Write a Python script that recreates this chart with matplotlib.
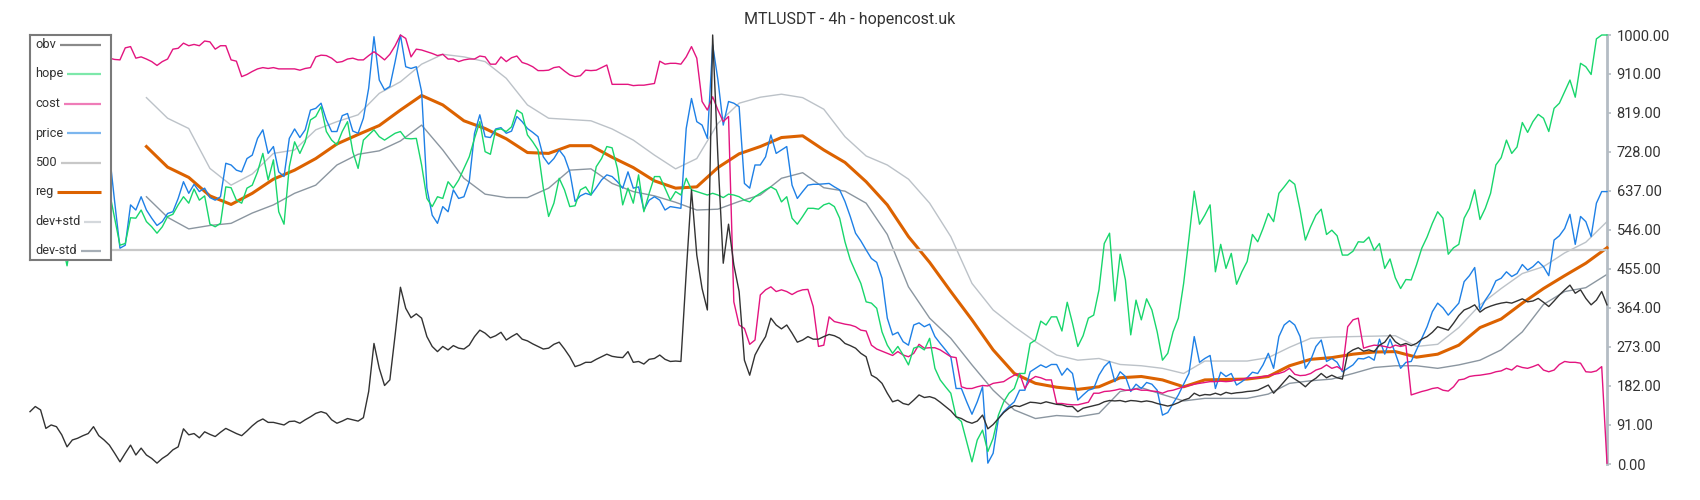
import numpy as np
import matplotlib
matplotlib.use("Agg")
import matplotlib.pyplot as plt

plt.rcParams["font.family"] = ["Roboto", "DejaVu Sans"]

TITLE = "MTLUSDT - 4h - hopencost.uk"
LABELS = ["obv", "hope", "cost", "price", "500", "reg", "dev+std", "dev-std"]
YTICKS = [0, 91, 182, 273, 364, 455, 546, 637, 728, 819, 910, 1000]
LEVEL = 500

# one value per 4h candle (299 candles)
OBV = [
    122, 134, 126, 83, 91, 87, 68, 40, 56, 60,
    66, 71, 87, 66, 56, 44, 25, 5, 25, 44,
    21, 37, 21, 13, 2, 13, 21, 33, 40, 82,
    68, 71, 61, 75, 69, 64, 74, 83, 77, 71,
    66, 77, 89, 99, 105, 97, 97, 94, 91, 99,
    100, 95, 103, 110, 118, 122, 118, 103, 95, 100,
    106, 103, 100, 108, 169, 281, 223, 183, 196, 301,
    412, 363, 341, 350, 340, 297, 274, 262, 274, 266,
    276, 270, 268, 277, 297, 312, 305, 294, 299, 307,
    289, 297, 304, 291, 287, 280, 274, 268, 270, 279,
    284, 268, 250, 227, 231, 237, 237, 244, 250, 256,
    251, 249, 248, 262, 237, 239, 233, 244, 246, 254,
    244, 239, 240, 239, 445, 639, 487, 409, 359, 1000,
    712, 468, 559, 464, 402, 242, 207, 254, 277, 297,
    340, 324, 315, 324, 305, 284, 289, 297, 291, 291,
    297, 302, 299, 293, 281, 276, 270, 258, 250, 207,
    200, 188, 165, 145, 149, 141, 138, 149, 161, 155,
    157, 153, 144, 134, 124, 110, 106, 99, 95, 100,
    114, 82, 92, 106, 120, 130, 136, 134, 139, 144,
    143, 141, 145, 142, 139, 138, 134, 134, 122, 130,
    133, 136, 139, 145, 148, 147, 148, 145, 148, 147,
    145, 147, 145, 141, 138, 135, 138, 143, 149, 153,
    165, 159, 162, 161, 165, 161, 167, 164, 166, 167,
    169, 170, 172, 178, 184, 165, 178, 192, 206, 198,
    190, 180, 192, 200, 211, 201, 207, 201, 198, 258,
    266, 271, 263, 266, 262, 277, 284, 301, 285, 277,
    281, 276, 281, 291, 297, 307, 320, 316, 312, 328,
    346, 359, 364, 371, 354, 363, 368, 372, 375, 377,
    375, 380, 385, 378, 380, 386, 377, 367, 380, 394,
    406, 417, 398, 406, 386, 371, 382, 402, 371,
]

HOPE = [
    600, 620, 580, 560, 590, 540, 520, 462, 540, 600,
    620, 640, 610, 650, 630, 635, 573, 510, 514, 574,
    573, 592, 565, 553, 538, 553, 577, 582, 604, 623,
    608, 641, 615, 625, 559, 553, 561, 646, 644, 615,
    608, 643, 650, 681, 724, 662, 709, 588, 559, 693,
    751, 724, 751, 802, 810, 833, 775, 755, 744, 775,
    798, 728, 689, 755, 767, 779, 763, 755, 763, 771,
    775, 759, 758, 759, 697, 619, 600, 623, 619, 658,
    643, 662, 689, 716, 759, 798, 728, 722, 779, 781,
    775, 786, 825, 817, 767, 751, 732, 643, 577, 608,
    666, 639, 600, 602, 639, 646, 627, 693, 712, 740,
    737, 689, 604, 643, 608, 674, 588, 631, 670, 670,
    643, 615, 635, 627, 666, 639, 635, 631, 627, 631,
    627, 621, 629, 627, 623, 615, 611, 623, 631, 639,
    646, 639, 611, 623, 573, 559, 577, 596, 596, 594,
    604, 608, 600, 573, 518, 476, 448, 421, 378, 375,
    363, 308, 277, 258, 274, 254, 231, 270, 274, 266,
    293, 223, 196, 180, 165, 110, 99, 52, 5, 56,
    79, 29, 60, 114, 145, 165, 176, 211, 211, 281,
    289, 333, 324, 343, 343, 310, 377, 328, 274, 299,
    340, 347, 406, 514, 538, 380, 489, 429, 301, 382,
    336, 385, 359, 308, 242, 258, 308, 340, 421, 526,
    636, 559, 580, 604, 448, 512, 456, 491, 419, 448,
    472, 535, 518, 549, 584, 565, 631, 646, 662, 652,
    592, 522, 553, 580, 594, 535, 545, 532, 487, 487,
    496, 518, 517, 529, 498, 514, 456, 478, 434, 409,
    430, 429, 464, 503, 529, 561, 588, 573, 489, 504,
    512, 573, 596, 639, 570, 596, 631, 697, 714, 755,
    724, 739, 796, 773, 798, 815, 806, 775, 829, 841,
    868, 895, 855, 934, 926, 908, 991, 1000, 1000,
]

COST = [
    940, 950, 945, 960, 955, 950, 945, 940, 950, 955,
    950, 945, 950, 955, 948, 946, 943, 942, 970, 973,
    946, 949, 944, 938, 929, 938, 944, 967, 969, 981,
    975, 978, 975, 986, 984, 967, 975, 975, 942, 939,
    903, 908, 915, 921, 924, 922, 924, 921, 921, 921,
    921, 918, 922, 924, 949, 953, 952, 946, 936, 938,
    944, 946, 942, 942, 952, 961, 952, 942, 955, 975,
    1000, 992, 949, 967, 965, 961, 957, 952, 955, 944,
    944, 938, 942, 944, 944, 951, 949, 932, 932, 949,
    938, 947, 951, 936, 932, 926, 917, 917, 918, 924,
    926, 916, 907, 903, 905, 918, 917, 918, 924, 930,
    885, 885, 885, 885, 882, 883, 883, 885, 887, 939,
    932, 934, 934, 932, 949, 973, 946, 845, 825, 856,
    825, 798, 810, 378, 324, 316, 279, 289, 394, 406,
    413, 402, 406, 402, 395, 402, 406, 407, 367, 274,
    277, 343, 332, 329, 326, 324, 320, 312, 310, 277,
    268, 263, 258, 253, 262, 254, 250, 258, 279, 270,
    271, 271, 266, 258, 250, 248, 180, 176, 176, 180,
    183, 182, 188, 190, 192, 200, 207, 211, 176, 196,
    204, 201, 196, 196, 141, 141, 139, 138, 138, 141,
    144, 165, 165, 169, 170, 172, 175, 172, 172, 175,
    172, 172, 170, 169, 165, 170, 172, 176, 180, 183,
    186, 188, 190, 192, 192, 193, 192, 193, 196, 198,
    200, 201, 201, 204, 206, 209, 211, 215, 223, 209,
    206, 207, 211, 219, 223, 231, 223, 227, 219, 320,
    336, 340, 270, 274, 277, 276, 274, 271, 277, 274,
    277, 161, 165, 169, 172, 176, 178, 172, 170, 180,
    196, 198, 204, 206, 207, 209, 211, 215, 217, 223,
    219, 229, 225, 223, 227, 232, 219, 215, 219, 232,
    239, 237, 237, 235, 215, 214, 217, 227, 2,
]

PRICE = [
    780, 800, 760, 740, 770, 720, 700, 680, 720, 760,
    790, 810, 780, 800, 760, 724, 611, 503, 510, 604,
    592, 623, 592, 573, 556, 565, 584, 588, 619, 658,
    631, 652, 635, 643, 621, 615, 623, 701, 697, 685,
    681, 712, 720, 759, 779, 724, 740, 681, 670, 759,
    781, 761, 779, 825, 829, 841, 802, 775, 775, 812,
    817, 776, 771, 806, 876, 996, 895, 872, 880, 938,
    1000, 926, 922, 926, 868, 643, 580, 561, 600, 588,
    639, 619, 623, 658, 771, 814, 763, 761, 781, 784,
    771, 776, 810, 798, 782, 773, 763, 716, 699, 712,
    732, 716, 681, 612, 625, 631, 627, 644, 662, 674,
    670, 658, 643, 681, 643, 646, 592, 615, 623, 615,
    592, 600, 598, 596, 782, 852, 798, 790, 759, 977,
    895, 790, 845, 841, 833, 654, 643, 697, 697, 716,
    767, 724, 732, 740, 650, 619, 635, 650, 652, 652,
    653, 654, 646, 639, 612, 577, 538, 520, 499, 479,
    470, 433, 340, 301, 307, 285, 277, 324, 329, 320,
    326, 297, 281, 266, 250, 176, 176, 145, 116, 145,
    180, 2, 25, 106, 122, 134, 145, 172, 172, 215,
    223, 231, 225, 232, 232, 207, 223, 211, 149, 161,
    172, 176, 207, 227, 239, 192, 215, 204, 169, 186,
    176, 190, 186, 172, 114, 120, 141, 161, 186, 211,
    297, 237, 246, 253, 176, 214, 204, 211, 184, 192,
    201, 214, 211, 231, 258, 223, 297, 324, 334, 324,
    297, 223, 242, 274, 289, 239, 246, 237, 215, 223,
    231, 246, 245, 250, 242, 291, 256, 291, 258, 223,
    237, 239, 266, 293, 320, 355, 375, 364, 347, 361,
    375, 425, 439, 458, 359, 382, 400, 427, 433, 448,
    437, 444, 465, 452, 460, 472, 460, 439, 522, 532,
    549, 582, 512, 577, 565, 530, 608, 635, 635,
]

# smoothed series, read every 4th candle from candle 22 on
SMOOTH_START, SMOOTH_STEP = 22, 4
REG = [
    740, 692, 668, 625, 605, 631, 664, 685, 712, 746,
    768, 789, 825, 859, 837, 800, 782, 758, 726, 724,
    742, 742, 715, 691, 660, 643, 646, 691, 723, 740,
    761, 765, 732, 703, 658, 604, 530, 470, 402, 336,
    266, 211, 188, 179, 174, 180, 201, 204, 196, 180,
    196, 197, 198, 204, 229, 244, 248, 256, 261, 262,
    249, 256, 277, 318, 338, 375, 409, 439, 468, 504,
]
DEV_PLUS = [
    854, 806, 782, 689, 650, 676, 724, 732, 779, 798,
    814, 864, 891, 932, 955, 949, 938, 899, 837, 806,
    803, 800, 781, 755, 720, 688, 712, 794, 841, 855,
    862, 854, 827, 763, 718, 697, 664, 608, 530, 421,
    359, 320, 285, 254, 242, 246, 232, 229, 223, 211,
    240, 240, 240, 248, 272, 293, 296, 297, 298, 299,
    274, 279, 318, 371, 409, 444, 460, 492, 517, 565,
]
DEV_MINUS = [
    623, 575, 548, 556, 561, 585, 604, 631, 650, 697,
    722, 730, 753, 790, 732, 666, 629, 621, 621, 643,
    685, 688, 654, 635, 625, 610, 592, 594, 612, 627,
    666, 679, 644, 636, 608, 535, 413, 340, 293, 231,
    172, 126, 106, 113, 110, 118, 169, 178, 162, 147,
    153, 153, 153, 163, 188, 194, 198, 211, 225, 229,
    229, 223, 231, 242, 266, 308, 372, 402, 411, 442,
]

COLORS = {
    "obv": "#333333", "hope": "#18d66c", "cost": "#e3147f", "price": "#1e80e6",
    "500": "#c8c8c8", "reg": "#dc6200", "dev+std": "#bcc2c8", "dev-std": "#8b96a0",
}
LEG_COLORS = ["#8a8a8a", "#7de8aa", "#ef7cb8", "#7cb6ee", "#c8c8c8", "#dc6200",
              "#d4d8dc", "#a6aeb6"]
LEG_LW = [1.6, 1.6, 1.6, 1.6, 1.6, 2.2, 1.6, 1.6]

W, H = 1700, 500
fig = plt.figure(figsize=(W / 100, H / 100), dpi=100)
ax = fig.add_axes([30 / W, 36 / H, 1577 / W, 429 / H])

x = np.arange(len(OBV))
xs = np.arange(SMOOTH_START, SMOOTH_START + SMOOTH_STEP * len(REG), SMOOTH_STEP)

ax.plot(xs, DEV_MINUS, color=COLORS["dev-std"], lw=1.0, zorder=1, clip_on=False)
ax.plot(xs, DEV_PLUS, color=COLORS["dev+std"], lw=1.0, zorder=2, clip_on=False)
ax.plot(xs, REG, color=COLORS["reg"], lw=2.2, zorder=3, clip_on=False,
        solid_joinstyle="round")
ax.axhline(LEVEL, color=COLORS["500"], lw=1.6, zorder=4)
ax.plot(x, PRICE, color=COLORS["price"], lw=1.0, zorder=5, clip_on=False)
ax.plot(x, COST, color=COLORS["cost"], lw=1.0, zorder=6, clip_on=False)
ax.plot(x, HOPE, color=COLORS["hope"], lw=1.0, zorder=7, clip_on=False)
ax.plot(x, OBV, color=COLORS["obv"], lw=1.0, zorder=8, clip_on=False)

ax.set_xlim(0, len(OBV) - 1)
ax.set_ylim(0, 1000)
ax.set_xticks([])
ax.yaxis.tick_right()
ax.set_yticks(YTICKS)
ax.set_yticklabels([f"{v:.2f}" for v in YTICKS])
ax.tick_params(axis="y", length=3, width=1.2, color="#b4bcc4", labelsize=10.5,
               labelcolor="#333333", pad=4)
for side in ("top", "left", "bottom"):
    ax.spines[side].set_visible(False)
ax.spines["right"].set_color("#b4bcc4")
ax.spines["right"].set_linewidth(2)
ax.patch.set_alpha(0)

fig.text(0.5, 1 - 19.5 / H, TITLE, ha="center", va="center", fontsize=11.5, color="#333333")

# legend box, drawn by hand: label first, line filling the rest of the row
LX0, LX1, LY0, LY1 = 30, 111, 34.5, 259.5
lax = fig.add_axes([LX0 / W, 1 - LY1 / H, (LX1 - LX0) / W, (LY1 - LY0) / H])
lax.set_xlim(0, LX1 - LX0)
lax.set_ylim(LY1 - LY0, 0)
lax.set_xticks([]); lax.set_yticks([])
lax.set_facecolor("white")
for s in lax.spines.values():
    s.set_color("#7a7a7a"); s.set_linewidth(1.5)
rows = []
for i, lab in enumerate(LABELS):
    y = 10 + 29.5 * i
    rows.append((lax.text(5, y, lab, fontsize=9.2, color="#333333", va="center", ha="left"), y))
fig.canvas.draw()
rend = fig.canvas.get_renderer()
inv = lax.transData.inverted()
for (t, y), c, lw in zip(rows, LEG_COLORS, LEG_LW):
    bb = t.get_window_extent(rend)
    x0 = inv.transform((bb.x1, bb.y0))[0] + 4
    lax.plot([x0, 70.7], [y, y], color=c, lw=lw, solid_capstyle="butt")

fig.savefig("out.png", dpi=100)
